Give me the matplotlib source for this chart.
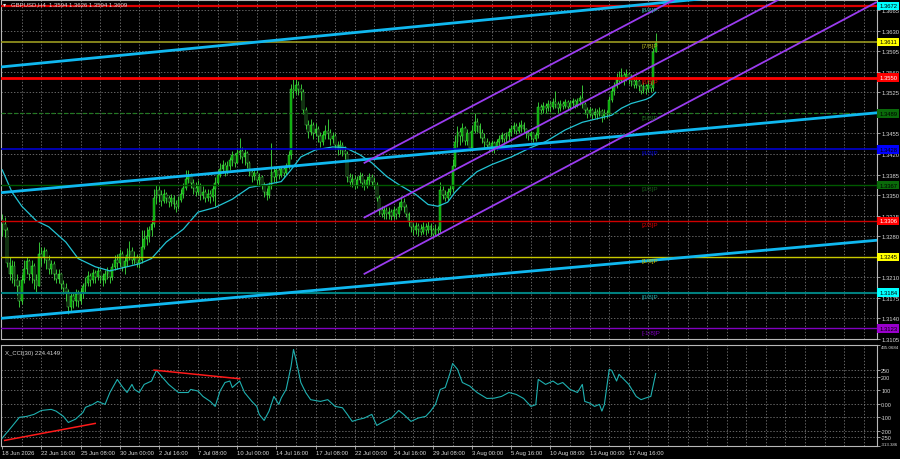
import matplotlib
matplotlib.use("Agg")
import matplotlib.pyplot as plt
import matplotlib.transforms as mtransforms
import numpy as np

plt.rcParams['font.family'] = ['Liberation Sans', 'DejaVu Sans']

# GBPUSD H4 candles (open = previous close)
first_open = 1.3310
close = [
    1.3300, 1.3290, 1.3235, 1.3215, 1.3230, 1.3205, 1.3195, 1.3170, 1.3205, 1.3225,
    1.3238, 1.3215, 1.3230, 1.3205, 1.3195, 1.3250, 1.3245, 1.3255, 1.3240, 1.3225,
    1.3232, 1.3215, 1.3208, 1.3215, 1.3198, 1.3192, 1.3185, 1.3160, 1.3178, 1.3170,
    1.3182, 1.3170, 1.3185, 1.3195, 1.3200, 1.3212, 1.3205, 1.3218, 1.3210, 1.3220,
    1.3212, 1.3205, 1.3215, 1.3220, 1.3210, 1.3228, 1.3240, 1.3235, 1.3250, 1.3228,
    1.3238, 1.3248, 1.3255, 1.3240, 1.3245, 1.3235, 1.3240, 1.3262, 1.3275, 1.3280,
    1.3290, 1.3300, 1.3345, 1.3358, 1.3350, 1.3340, 1.3352, 1.3345, 1.3338, 1.3345,
    1.3335, 1.3330, 1.3342, 1.3352, 1.3362, 1.3378, 1.3385, 1.3370, 1.3362, 1.3355,
    1.3368, 1.3350, 1.3356, 1.3345, 1.3352, 1.3346, 1.3360, 1.3370, 1.3385, 1.3395,
    1.3402, 1.3390, 1.3400, 1.3410, 1.3418, 1.3405, 1.3422, 1.3425, 1.3415, 1.3422,
    1.3405, 1.3390, 1.3382, 1.3388, 1.3375, 1.3380, 1.3368, 1.3355, 1.3350, 1.3365,
    1.3390, 1.3380, 1.3392, 1.3385, 1.3395, 1.3388, 1.3400, 1.3418, 1.3530, 1.3528,
    1.3538, 1.3530, 1.3525, 1.3495, 1.3470, 1.3458, 1.3470, 1.3455, 1.3462, 1.3450,
    1.3440, 1.3452, 1.3460, 1.3455, 1.3445, 1.3450, 1.3435, 1.3428, 1.3436, 1.3425,
    1.3420, 1.3380, 1.3372, 1.3378, 1.3368, 1.3375, 1.3382, 1.3370, 1.3365, 1.3375,
    1.3380, 1.3372, 1.3368, 1.3345, 1.3325, 1.3318, 1.3325, 1.3318, 1.3322, 1.3315,
    1.3325, 1.3318, 1.3330, 1.3338, 1.3330, 1.3318, 1.3305, 1.3296, 1.3290, 1.3298,
    1.3292, 1.3288, 1.3296, 1.3290, 1.3298, 1.3290, 1.3284, 1.3292, 1.3290, 1.3358,
    1.3350, 1.3345, 1.3356, 1.3360, 1.3400, 1.3440, 1.3458, 1.3450, 1.3465, 1.3442,
    1.3455, 1.3430, 1.3460, 1.3475, 1.3468, 1.3455, 1.3448, 1.3440, 1.3436, 1.3432,
    1.3438, 1.3430, 1.3440, 1.3446, 1.3452, 1.3445, 1.3450, 1.3458, 1.3462, 1.3468,
    1.3460, 1.3466, 1.3470, 1.3462, 1.3455, 1.3450, 1.3455, 1.3446, 1.3452, 1.3500,
    1.3495, 1.3502, 1.3498, 1.3505, 1.3500, 1.3508, 1.3505, 1.3498, 1.3505, 1.3502,
    1.3508, 1.3500, 1.3506, 1.3510, 1.3504, 1.3510, 1.3515, 1.3505, 1.3495, 1.3488,
    1.3495, 1.3486, 1.3492, 1.3488, 1.3494, 1.3485, 1.3490, 1.3488, 1.3512, 1.3528,
    1.3535, 1.3550, 1.3545, 1.3555, 1.3548, 1.3556, 1.3550, 1.3545, 1.3538, 1.3545,
    1.3535, 1.3528, 1.3535, 1.3530, 1.3538, 1.3532, 1.3594, 1.3609,
]
high = [
    1.3318, 1.3312, 1.3295, 1.3245, 1.3240, 1.3238, 1.3215, 1.3205, 1.3215, 1.3240,
    1.3245, 1.3242, 1.3240, 1.3235, 1.3215, 1.3270, 1.3262, 1.3262, 1.3258, 1.3248,
    1.3240, 1.3238, 1.3225, 1.3225, 1.3218, 1.3205, 1.3200, 1.3190, 1.3185, 1.3185,
    1.3190, 1.3188, 1.3192, 1.3200, 1.3210, 1.3220, 1.3218, 1.3225, 1.3222, 1.3228,
    1.3225, 1.3218, 1.3222, 1.3228, 1.3225, 1.3235, 1.3248, 1.3250, 1.3258, 1.3255,
    1.3245, 1.3260, 1.3272, 1.3262, 1.3255, 1.3250, 1.3248, 1.3290, 1.3290, 1.3295,
    1.3298, 1.3310, 1.3360, 1.3368, 1.3365, 1.3358, 1.3360, 1.3356, 1.3350, 1.3352,
    1.3350, 1.3342, 1.3348, 1.3360, 1.3370, 1.3392, 1.3393, 1.3388, 1.3378, 1.3372,
    1.3375, 1.3370, 1.3365, 1.3360, 1.3360, 1.3358, 1.3368, 1.3380, 1.3392, 1.3405,
    1.3410, 1.3406, 1.3408, 1.3415, 1.3425, 1.3422, 1.3430, 1.3448, 1.3432, 1.3428,
    1.3425, 1.3408, 1.3395, 1.3396, 1.3392, 1.3388, 1.3384, 1.3372, 1.3362, 1.3372,
    1.3438, 1.3400, 1.3398, 1.3398, 1.3400, 1.3398, 1.3405, 1.3425, 1.3540, 1.3548,
    1.3550, 1.3545, 1.3540, 1.3530, 1.3500, 1.3478, 1.3480, 1.3475, 1.3472, 1.3468,
    1.3458, 1.3460, 1.3470, 1.3480, 1.3462, 1.3458, 1.3455, 1.3442, 1.3444, 1.3440,
    1.3434, 1.3425, 1.3388, 1.3386, 1.3384, 1.3382, 1.3390, 1.3388, 1.3378, 1.3382,
    1.3388, 1.3386, 1.3380, 1.3372, 1.3350, 1.3332, 1.3332, 1.3330, 1.3330, 1.3326,
    1.3332, 1.3328, 1.3338, 1.3348, 1.3345, 1.3335, 1.3322, 1.3308, 1.3302, 1.3305,
    1.3302, 1.3300, 1.3305, 1.3302, 1.3306, 1.3302, 1.3296, 1.3300, 1.3298, 1.3372,
    1.3365, 1.3358, 1.3362, 1.3368, 1.3412, 1.3452, 1.3468, 1.3465, 1.3472, 1.3468,
    1.3462, 1.3458, 1.3470, 1.3490, 1.3482, 1.3472, 1.3462, 1.3455, 1.3448, 1.3442,
    1.3444, 1.3442, 1.3446, 1.3452, 1.3458, 1.3456, 1.3458, 1.3465, 1.3470, 1.3475,
    1.3472, 1.3474, 1.3478, 1.3474, 1.3465, 1.3460, 1.3460, 1.3458, 1.3458, 1.3508,
    1.3505, 1.3508, 1.3506, 1.3512, 1.3510, 1.3515, 1.3528, 1.3510, 1.3512, 1.3510,
    1.3514, 1.3512, 1.3512, 1.3516, 1.3514, 1.3515, 1.3520, 1.3538, 1.3508, 1.3500,
    1.3500, 1.3498, 1.3498, 1.3496, 1.3500, 1.3496, 1.3496, 1.3495, 1.3518, 1.3535,
    1.3542, 1.3558, 1.3562, 1.3566, 1.3560, 1.3564, 1.3560, 1.3556, 1.3550, 1.3552,
    1.3548, 1.3540, 1.3542, 1.3540, 1.3546, 1.3544, 1.3600, 1.3626,
]
low = [
    1.3280, 1.3278, 1.3228, 1.3205, 1.3200, 1.3195, 1.3180, 1.3160, 1.3165, 1.3200,
    1.3215, 1.3205, 1.3200, 1.3190, 1.3185, 1.3195, 1.3230, 1.3235, 1.3225, 1.3215,
    1.3215, 1.3205, 1.3200, 1.3200, 1.3190, 1.3182, 1.3170, 1.3148, 1.3152, 1.3158,
    1.3162, 1.3160, 1.3165, 1.3175, 1.3185, 1.3195, 1.3196, 1.3200, 1.3200, 1.3205,
    1.3200, 1.3195, 1.3200, 1.3208, 1.3200, 1.3205, 1.3222, 1.3225, 1.3230, 1.3220,
    1.3215, 1.3230, 1.3240, 1.3232, 1.3232, 1.3228, 1.3226, 1.3235, 1.3258, 1.3265,
    1.3270, 1.3280, 1.3295, 1.3335, 1.3338, 1.3332, 1.3336, 1.3336, 1.3330, 1.3332,
    1.3326, 1.3322, 1.3326, 1.3338, 1.3345, 1.3358, 1.3370, 1.3362, 1.3352, 1.3348,
    1.3350, 1.3342, 1.3344, 1.3338, 1.3340, 1.3336, 1.3340, 1.3332, 1.3365, 1.3380,
    1.3388, 1.3382, 1.3386, 1.3392, 1.3400, 1.3398, 1.3404, 1.3412, 1.3405, 1.3402,
    1.3396, 1.3383, 1.3372, 1.3375, 1.3368, 1.3366, 1.3360, 1.3346, 1.3342, 1.3345,
    1.3360, 1.3372, 1.3370, 1.3378, 1.3380, 1.3380, 1.3384, 1.3395, 1.3412, 1.3515,
    1.3522, 1.3520, 1.3512, 1.3488, 1.3462, 1.3448, 1.3452, 1.3446, 1.3450, 1.3440,
    1.3432, 1.3436, 1.3445, 1.3446, 1.3436, 1.3438, 1.3428, 1.3418, 1.3420, 1.3416,
    1.3412, 1.3372, 1.3365, 1.3364, 1.3360, 1.3362, 1.3370, 1.3364, 1.3358, 1.3362,
    1.3368, 1.3365, 1.3360, 1.3340, 1.3316, 1.3312, 1.3310, 1.3309, 1.3310, 1.3308,
    1.3310, 1.3309, 1.3312, 1.3325, 1.3322, 1.3312, 1.3298, 1.3288, 1.3282, 1.3284,
    1.3280, 1.3282, 1.3284, 1.3282, 1.3286, 1.3280, 1.3278, 1.3282, 1.3280, 1.3286,
    1.3344, 1.3340, 1.3342, 1.3350, 1.3355, 1.3398, 1.3432, 1.3435, 1.3440, 1.3436,
    1.3435, 1.3425, 1.3428, 1.3455, 1.3458, 1.3448, 1.3438, 1.3432, 1.3428, 1.3424,
    1.3424, 1.3422, 1.3426, 1.3434, 1.3440, 1.3438, 1.3440, 1.3444, 1.3450, 1.3456,
    1.3454, 1.3455, 1.3458, 1.3456, 1.3448, 1.3444, 1.3444, 1.3440, 1.3442, 1.3448,
    1.3488, 1.3490, 1.3490, 1.3494, 1.3492, 1.3496, 1.3498, 1.3490, 1.3494, 1.3496,
    1.3498, 1.3495, 1.3496, 1.3500, 1.3498, 1.3500, 1.3504, 1.3498, 1.3488, 1.3482,
    1.3484, 1.3480, 1.3482, 1.3480, 1.3484, 1.3475, 1.3480, 1.3482, 1.3486, 1.3508,
    1.3520, 1.3532, 1.3540, 1.3542, 1.3538, 1.3544, 1.3540, 1.3536, 1.3532, 1.3532,
    1.3528, 1.3522, 1.3524, 1.3522, 1.3526, 1.3525, 1.3528, 1.3594,
]

# moving average
ma_bars = [0, 4, 8, 14, 19, 26, 31, 38, 44, 51, 56, 61, 67, 74, 80, 87, 94, 101, 108, 114,
           118, 122, 128, 135, 140, 146, 151, 157, 162, 169, 174, 178, 182, 185, 189, 194,
           200, 208, 216, 222, 230, 237, 244, 249, 253, 257, 263, 265, 267]
ma_vals = [1.3393, 1.3355, 1.3331, 1.3306, 1.3296, 1.3270, 1.3242, 1.3228, 1.3221, 1.3228,
           1.3233, 1.3242, 1.3270, 1.3292, 1.3321, 1.3329, 1.3343, 1.3363, 1.3368, 1.3373,
           1.3393, 1.3415, 1.3427, 1.3432, 1.3431, 1.3419, 1.3405, 1.3382, 1.3368, 1.3351,
           1.3334, 1.3331, 1.3338, 1.3355, 1.3372, 1.3390, 1.3402, 1.3415, 1.3431, 1.3441,
           1.3461, 1.3474, 1.3481, 1.3486, 1.3498, 1.3506, 1.3513, 1.3517, 1.3525]

# CCI(30) sub window
cci_bars = [0, 4, 7, 10, 13, 16, 20, 22, 25, 27, 30, 33, 34, 37, 39, 42, 44, 47, 49, 51,
            53, 54, 56, 58, 61, 63, 65, 68, 72, 76, 77, 80, 82, 85, 87, 89, 91, 93, 94, 97,
            99, 102, 104, 105, 107, 109, 111, 113, 114, 116, 118, 119, 120, 122, 124, 126, 130, 133, 136, 139,
            141, 143, 145, 148, 151, 153, 156, 159, 162, 164, 167, 170, 173, 175, 177, 179, 181, 183, 184, 186,
            188, 191, 194, 198, 201, 204, 207, 210, 213, 216, 218, 219, 222, 225, 227, 229, 232, 235, 237, 238,
            240, 242, 244, 245, 246, 248, 249, 251, 252, 254, 256, 258, 259, 261, 263, 265, 267]
cci_vals = [-255, -168, -101, -94, -79, -50, -42, -55, -94, -139, -114, -64, -27, -5, 17, -5, 83, 180, 128, 83,
            143, 106, 83, 143, 168, 247, 205, 143, 83, 83, 106, 94, 54, 17, -20, 94, 157, 168, 120, 168,
            83, 17, -20, -79, -124, -55, 54, -5, 43, 106, 276, 402, 328, 157, 83, 30, 17, 30, -20, -30,
            -79, -131, -119, -106, -79, -161, -131, -106, -50, -79, -131, -106, -94, -55, -5, 106, 120, 229, 298, 255,
            157, 131, 83, 39, 41, 54, 83, 69, 39, -20, -7, 180, 143, 168, 143, 157, 106, 83, 143, 17,
            5, -20, -5, -55, -7, 254, 247, 168, 218, 180, 143, 83, 54, 30, 43, 54, 224]
cci_div_low = ([1, 38], [-272, -146])
cci_div_high = ([62, 97], [249, 185])

# Murrey math levels
mm_levels = [1.3672, 1.3611, 1.3550, 1.3489, 1.3428, 1.3367, 1.3306, 1.3245, 1.3184, 1.3123]
mm_names = ['[8/8]P', '[7/8]P', '[6/8]P', '[5/8]P', '[4/8]P', '[3/8]P', '[2/8]P', '[1/8]P', '[0/8]P', '[-1/8]P']
mm_line_colors = ['#e00000', '#9a9a20', '#ff0000', '#1f7a1f', '#0000d0', '#005a00', '#d00000', '#c8c800', '#008080', '#8000c0']
mm_box_colors = ['#00ffff', '#ffff00', '#ff0000', '#0a6a0a', '#0000ff', '#0a6a0a', '#ff0000', '#ffff00', '#00ffff', '#9900cc']
mm_box_text = ['black', 'black', 'white', 'black', 'black', 'black', 'white', 'black', 'black', 'black']
mm_name_colors = ['#30b0b0', '#b8b820', '#e00000', '#1f6a1f', '#0000d0', '#1a5a1a', '#d00000', '#c8c800', '#20a0a0', '#8000c0']
mm_widths = [1.6, 1.2, 2.0, 0.9, 1.2, 1.0, 1.0, 1.0, 1.5, 1.0]
mm_styles = ['-', '-', '-', (0, (3, 2)), '-', '-', '-', '-', '-', '-']

# trend lines (bar, price) end points
trend_bars = [-1, 357]
trend_upper = [1.3568, 1.3713]
trend_mid = [1.3354, 1.3490]
trend_low = [1.3140, 1.3273]
chan_bars = [148, 357]
chan_upper = [1.3405, 1.3864]
chan_mid = [1.3312, 1.3770]
chan_low = [1.3216, 1.3678]

price_ticks = [1.3105, 1.3140, 1.3175, 1.3210, 1.3245, 1.3280, 1.3315, 1.3350, 1.3385,
               1.3420, 1.3455, 1.3490, 1.3525, 1.3560, 1.3595, 1.3630, 1.3665]
hidden_ticks = [1.3245, 1.3490]  # sit under the level boxes
cci_ticks = [435.0684, 250, 200, 100, 0, -100, -200, -250, -313.386]
cci_tick_labels = ['435.0684', '250', '200', '100', '0.00', '-100', '-200', '-250', '-313.386']
cci_grid = [250, 200, 100, 0, -100, -200, -250]

time_bars = [0, 16, 32, 48, 64, 80, 96, 112, 128, 144, 160, 176, 192, 208, 224, 240, 256]
time_labels = ['18 Jun 2026', '22 Jun 16:00', '25 Jun 08:00', '30 Jun 00:00', '2 Jul 16:00',
               '7 Jul 08:00', '10 Jul 00:00', '14 Jul 16:00', '17 Jul 08:00', '22 Jul 00:00',
               '24 Jul 16:00', '29 Jul 08:00', '3 Aug 00:00', '5 Aug 16:00', '10 Aug 08:00',
               '13 Aug 00:00', '17 Aug 16:00']

assert len(close) == len(high) == len(low)
assert len(cci_bars) == len(cci_vals)

c = np.array(close)
o = np.array([first_open] + close[:-1])
h = np.maximum(np.array(high), np.maximum(o, c))
l = np.minimum(np.array(low), np.minimum(o, c))
xb = np.arange(len(c))

fig = plt.figure(figsize=(9, 4.6), dpi=100, facecolor='black')
ax = fig.add_axes([1/900, 120/460, 876/900, 339/460], facecolor='black')
ax2 = fig.add_axes([1/900, 13/460, 876/900, 101/460], facecolor='black')

grid_kw = dict(color='#8a8a8a', lw=0.5, ls=(0, (2, 2.5)), zorder=0)
for a in (ax, ax2):
    for s in a.spines.values():
        s.set_color('#b8b8b8')
        s.set_linewidth(0.8)
    a.set_xlim(-0.5, 357.4)
    for gx in range(8, 358, 8):
        a.axvline(gx, **grid_kw)
    a.yaxis.tick_right()
    a.tick_params(axis='both', colors='#d8d8d8', labelsize=4.2, length=2, width=0.5, pad=1.0)

# main chart
ax.set_ylim(1.31059, 1.36822)
ax.set_xticks([])
ax.set_yticks(price_ticks)
ax.set_yticklabels(['' if p in hidden_ticks else f'{p:.4f}' for p in price_ticks])
for p in price_ticks:
    ax.axhline(p, **grid_kw)

ax.vlines(xb, l, h, color='#3fe03f', lw=0.6, zorder=2)
bull = c >= o
ax.bar(xb[bull], (c - o)[bull], bottom=o[bull], width=0.75, color='#00a000',
       edgecolor='#55f055', linewidth=0.3, zorder=2)
ax.bar(xb[~bull], (o - c)[~bull], bottom=c[~bull], width=0.75, color='#000000',
       edgecolor='#55f055', linewidth=0.3, zorder=2)
ax.plot(ma_bars, ma_vals, color='#22c4d4', lw=0.9, zorder=3)

for p, lc, w, ls in zip(mm_levels, mm_line_colors, mm_widths, mm_styles):
    ax.axhline(p, color=lc, lw=w, ls=ls, zorder=4)

for ys in (trend_upper, trend_mid, trend_low):
    ax.plot(trend_bars, ys, color='#10b8f0', lw=2.0, zorder=5)
for ys in (chan_upper, chan_mid, chan_low):
    ax.plot(chan_bars, ys, color='#9b3cf0', lw=1.3, zorder=5)

for p, name, nc in zip(mm_levels, mm_names, mm_name_colors):
    ax.text(261, p - 0.0002, name, color=nc, fontsize=4.6, ha='left', va='top', zorder=6)

trans = mtransforms.blended_transform_factory(ax.transAxes, ax.transData)
for p, bc, tc in zip(mm_levels, mm_box_colors, mm_box_text):
    ax.text(1.0025, p, f'{p:.4f}', transform=trans, fontsize=4.2, color=tc, ha='left', va='center',
            bbox=dict(boxstyle='square,pad=0.3', fc=bc, ec='none'), zorder=20, clip_on=False)

fig.text(3/900, 1 - 5/460, '\u25be', fontsize=4.5, color='#e0e0e0', va='center')
fig.text(11/900, 1 - 5/460, 'GBPUSD,H4  1.3594 1.3626 1.3594 1.3609', fontsize=4.3,
         color='#d8d8d8', va='center')

# CCI window
ax2.set_ylim(-313.386, 435.0684)
ax2.set_yticks(cci_ticks)
ax2.set_yticklabels(cci_tick_labels)
ax2.tick_params(axis='y', labelsize=3.9)
yl = ax2.get_yticklabels()
yl[0].set_va('top')
yl[0].set_fontsize(3.2)
yl[-1].set_va('bottom')
yl[-1].set_fontsize(3.2)
for v in cci_grid:
    ax2.axhline(v, **grid_kw)
ax2.plot(cci_bars, cci_vals, color='#1fb0b0', lw=0.8, zorder=3)
ax2.plot(cci_div_low[0], cci_div_low[1], color='#ff1a1a', lw=1.1, zorder=4)
ax2.plot(cci_div_high[0], cci_div_high[1], color='#ff1a1a', lw=1.1, zorder=4)
ax2.text(0.004, 0.93, 'X_CCI(30) 224.4149', transform=ax2.transAxes, fontsize=4.3,
         color='#d8d8d8', va='center')

ax2.set_xticks(time_bars)
ax2.set_xticklabels(time_labels)
for t in ax2.get_xticklabels():
    t.set_ha('left')
    t.set_fontsize(4.2)

fig.savefig('out.png', dpi=100, facecolor='black')
